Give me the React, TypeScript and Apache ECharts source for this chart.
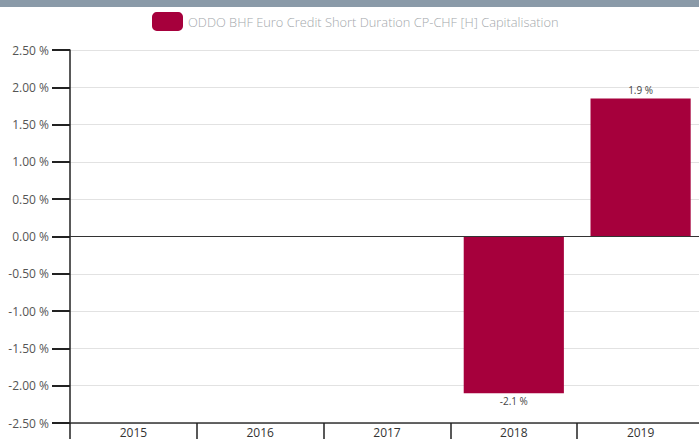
import React, { useEffect, useRef } from "react";
import * as echarts from "echarts";

const categories = ["2015", "2016", "2017", "2018", "2019"];
const seriesName = "ODDO BHF Euro Credit Short Duration CP-CHF [H] Capitalisation";
const values: (number | null)[] = [null, null, null, -2.1, 1.85];
const yTicks = [-2.5, -2.0, -1.5, -1.0, -0.5, 0, 0.5, 1.0, 1.5, 2.0, 2.5];

const BAR = "#a6003c";
const FONT = "'Open Sans', 'Noto Sans', sans-serif";

export default function App() {
  const ref = useRef<HTMLDivElement>(null);
  useEffect(() => {
    const chart = echarts.init(ref.current!, null, { renderer: "svg" });
    chart.setOption({
      animation: false,
      textStyle: { fontFamily: FONT },
      graphic: [
        { type: "rect", left: 0, top: 0, shape: { width: 704, height: 7 }, style: { fill: "#8a9aa8" } },
      ],
      legend: {
        data: [seriesName],
        top: 7,
        left: 147,
        itemWidth: 31,
        itemHeight: 19,
        itemGap: 10,
        icon: "roundRect",
        textStyle: { color: "#a4a8ac", fontSize: 12.85, fontFamily: FONT, fontWeight: 300 },
      },
      grid: { left: 70, right: 0, top: 50, bottom: 16, containLabel: false },
      xAxis: {
        type: "category",
        data: categories,
        boundaryGap: true,
        axisLine: { onZero: false, lineStyle: { color: "#333", width: 1.5 } },
        axisTick: { show: true, length: 18, lineStyle: { color: "#222", width: 1.5 } },
        axisLabel: { color: "#333", fontSize: 12, margin: 3, fontFamily: FONT },
        splitLine: { show: false },
      },
      yAxis: {
        type: "value",
        min: yTicks[0],
        max: yTicks[yTicks.length - 1],
        interval: 0.5,
        axisLine: { show: true, lineStyle: { color: "#222", width: 1.5 } },
        axisTick: { show: true, length: 18, lineStyle: { color: "#222", width: 2 } },
        axisLabel: {
          color: "#555",
          fontSize: 12,
          margin: 21,
          fontFamily: FONT,
          formatter: (v: number) => v.toFixed(2) + " %",
        },
        splitLine: { show: true, lineStyle: { color: "#e2e2e2", width: 1 } },
      },
      series: [
        {
          name: seriesName,
          type: "bar",
          barWidth: "79%",
          itemStyle: { color: BAR },
          data: values.map((v) =>
            v === null
              ? null
              : {
                  value: v,
                  label: {
                    show: true,
                    position: v >= 0 ? "top" : "bottom",
                    distance: 3,
                    color: "#444",
                    fontSize: 10,
                    fontFamily: FONT,
                    formatter: () => v.toFixed(1) + " %",
                  },
                }
          ),
          markLine: {
            silent: true,
            symbol: "none",
            label: { show: false },
            lineStyle: { color: "#333", width: 1.2, type: "solid" },
            data: [{ yAxis: 0 }],
          },
        },
      ],
    });
    return () => chart.dispose();
  }, []);
  return (
    <div style={{ position: "fixed", left: 0, top: 0, width: 699, height: 439, overflow: "hidden" }}>
      <div ref={ref} style={{ width: 704, height: 439, background: "#fff" }} />
    </div>
  );
}
